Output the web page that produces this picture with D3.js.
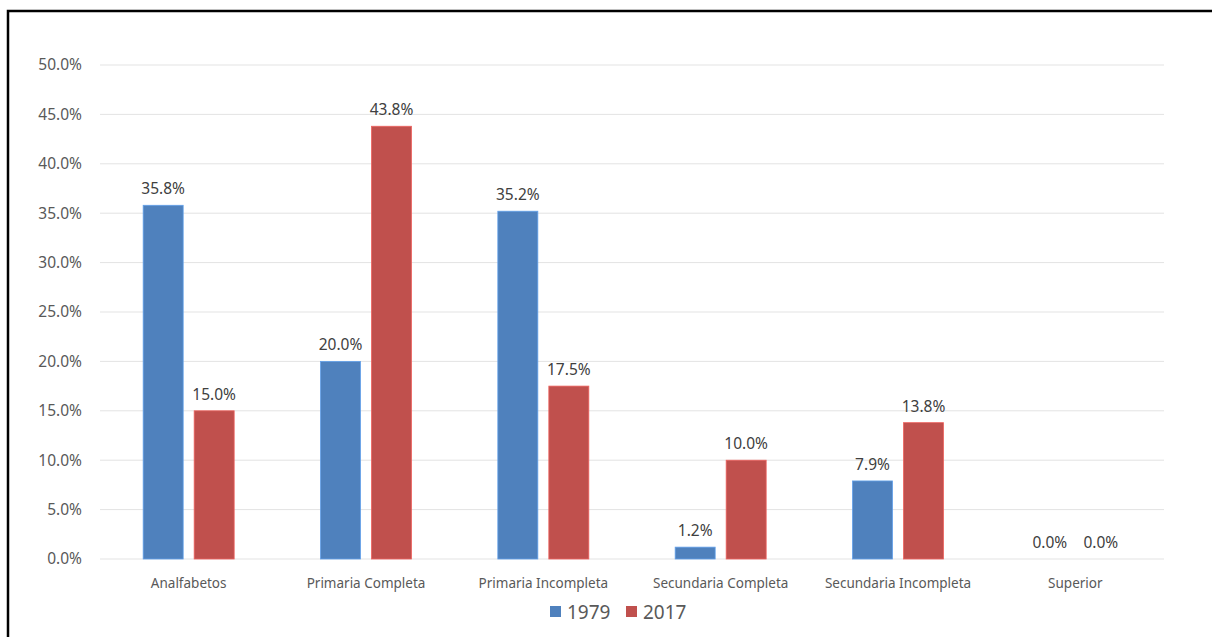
<!DOCTYPE html>
<html><head><meta charset="utf-8">
<script src="https://cdn.jsdelivr.net/npm/d3@7"></script>
<style>body{margin:0;background:#fff;}svg{display:block;font-family:"Noto Sans",sans-serif;}</style>
</head><body>
<svg id="c" width="1212" height="637"></svg>
<script>
const categories = ["Analfabetos","Primaria Completa","Primaria Incompleta","Secundaria Completa","Secundaria Incompleta","Superior"];
const seriesNames = ["1979","2017"];
const values1979 = [35.8,20.0,35.2,1.2,7.9,0.0];
const values2017 = [15.0,43.8,17.5,10.0,13.8,0.0];
const yTicks = [0,5,10,15,20,25,30,35,40,45,50];
const colors = ["#4f81bd","#c0504d"];

const svg = d3.select("#c");
svg.append("path").attr("d","M8,637 L8,11 L1212,11").attr("fill","none").attr("stroke","#000").attr("stroke-width",2.5);

const x0 = d3.scaleBand().domain(categories).range([100,1164]);
const y = d3.scaleLinear().domain([0,50]).range([559,65]);
const barW = 40, gap = 11;

const g = svg.append("g");
g.selectAll("line.grid").data(yTicks).join("line")
 .attr("x1",100).attr("x2",1164).attr("y1",d=>y(d)).attr("y2",d=>y(d))
 .attr("stroke","#e3e3e3").attr("stroke-width",1);

const yAxis = d3.axisLeft(y).tickValues(yTicks).tickFormat(d=>d.toFixed(1)+"%").tickSize(0).tickPadding(0);
const ya = svg.append("g").attr("transform","translate(82,0)").call(yAxis);
ya.select(".domain").remove();
ya.selectAll("text").attr("fill","#595959").attr("font-size",15.5).attr("font-family","Noto Sans");

const xAxis = d3.axisBottom(x0).tickSize(0).tickPadding(0);
const xa = svg.append("g").attr("transform","translate(0,578)").call(xAxis);
xa.select(".domain").remove();
xa.selectAll("text").attr("fill","#595959").attr("font-size",13.5).attr("font-family","Noto Sans");

const series = [values1979, values2017];
series.forEach((vals,si)=>{
  const off = si===0 ? -(barW+gap/2) : gap/2;
  const data = categories.map((c,i)=>({c,v:vals[i]}));
  g.selectAll("rect.s"+si).data(data).join("rect")
   .attr("x",d=>x0(d.c)+x0.bandwidth()/2+off)
   .attr("y",d=>y(d.v)).attr("width",barW).attr("height",d=>y(0)-y(d.v))
   .attr("fill",colors[si]).attr("stroke",d3.color(colors[si]).brighter(0.6)).attr("stroke-width",0.8);
  g.selectAll("text.l"+si).data(data).join("text")
   .attr("x",d=>x0(d.c)+x0.bandwidth()/2+off+barW/2)
   .attr("y",d=>y(d.v)-11)
   .attr("text-anchor","middle").attr("font-size",15.5).attr("fill","#404040")
   .text(d=>d.v.toFixed(1)+"%");
});

const lg = svg.append("g");
const items = [{n:seriesNames[0],x:550},{n:seriesNames[1],x:626}];
items.forEach((it,i)=>{
  lg.append("rect").attr("x",it.x).attr("y",606).attr("width",11).attr("height",11).attr("fill",colors[i]);
  lg.append("text").attr("x",it.x+17).attr("y",619).attr("font-size",19).attr("fill","#595959").text(it.n);
});
</script>
</body></html>
